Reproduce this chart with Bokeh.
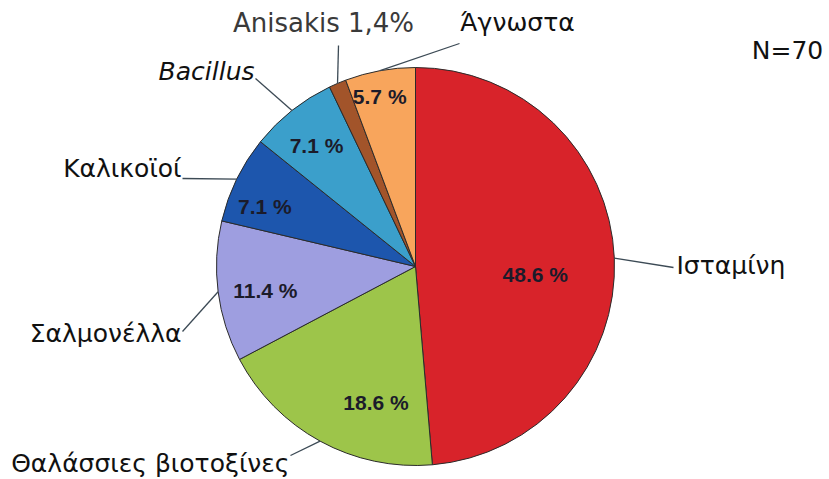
import math
from bokeh.plotting import figure
from bokeh.models import Range1d, ColumnDataSource
from bokeh.core.properties import value
from bokeh.embed import file_html
from bokeh.resources import INLINE

# ---- data ----
categories = ["Ισταμίνη", "Θαλάσσιες βιοτοξίνες", "Σαλμονέλλα", "Καλικοϊοί", "Bacillus", "Anisakis", "Άγνωστα"]
percents = [48.6, 18.6, 11.4, 7.1, 7.1, 1.4, 5.7]
pct_labels = ["48.6 %", "18.6 %", "11.4 %", "7.1 %", "7.1 %", "", "5.7 %"]
outer_labels = ["Ισταμίνη", "Θαλάσσιες βιοτοξίνες", "Σαλμονέλλα", "Καλικοϊοί", "Bacillus", "Anisakis 1,4%", "Άγνωστα"]
colors = ["#d8232a", "#9dc54a", "#9e9ee0", "#1d56ad", "#3b9fcb", "#a2542a", "#f8a55c"]
total_note = "N=70"

# ---- layout (screen coords converted to data: y_data = 479 - y_screen) ----
W, H = 829, 479
cx, cy_s, R = 415, 266, 199
cy = H - cy_s
label_r = [0.6, 0.71, 0.76, 0.81, 0.78, 0.0, 0.87]
label_da = [6.3, -12.5, -1.6, -4.4, -1.0, 0.0, -1.6]
# leader end (screen), text alignment, text position (screen), style, colour, size
anchors = [
    (673, 267, "left", 676, 265, "normal", "#111111", "25px"),
    (290, 455, "right", 289, 463, "normal", "#111111", "25px"),
    (182, 331, "right", 181, 333, "normal", "#111111", "25px"),
    (182, 178, "right", 181, 168, "normal", "#111111", "25px"),
    (255, 78, "right", 254, 71, "italic", "#111111", "25px"),
    (338, 45, "center", 323, 22, "normal", "#3a3a3a", "26px"),
    (459, 43, "center", 517, 22, "normal", "#111111", "25px"),
]

p = figure(width=W, height=H, x_range=Range1d(0, W), y_range=Range1d(0, H),
           output_backend="svg", toolbar_location=None, min_border=0)
p.axis.visible = False
p.grid.visible = False
p.outline_line_color = None
p.background_fill_color = "white"

tot = sum(percents)
starts, ends, mids = [], [], []
cum = 0.0
for v in percents:
    a0 = cum / tot * 2 * math.pi
    cum += v
    a1 = cum / tot * 2 * math.pi
    # clockwise from 12 o'clock
    starts.append(math.pi / 2 - a1)
    ends.append(math.pi / 2 - a0)
    mids.append((a0 + a1) / 2)

src = ColumnDataSource(dict(x=[cx] * len(percents), y=[cy] * len(percents),
                            start=starts, end=ends, color=colors))
p.wedge(x="x", y="y", radius=R, start_angle="start", end_angle="end",
        fill_color="color", line_color="#2b2b2b", line_width=1, source=src)

# percent labels inside
px, py, pt = [], [], []
for i, m in enumerate(mids):
    if not pct_labels[i]:
        continue
    r = label_r[i] * 200
    a = m + math.radians(label_da[i])
    px.append(cx + r * math.sin(a))
    py.append(cy + r * math.cos(a))
    pt.append(pct_labels[i])
p.text(x=px, y=py, text=pt, text_font=value("Liberation Sans"), text_font_style="bold",
       text_font_size="21px", text_color="#1b1b2a", text_align="center", text_baseline="middle")

# leader lines and outer labels
for i, m in enumerate(mids):
    ex = cx + R * math.sin(m)
    ey = cy + R * math.cos(m)
    ax, ay, align, tx, ty, style, col, fs = anchors[i]
    p.line([ex, ax], [ey, H - ay], line_color="#3c4a55", line_width=1.3)
    p.text(x=[tx], y=[H - ty], text=[outer_labels[i]], text_font=value("DejaVu Sans"),
           text_font_size=fs, text_font_style=style, text_color=col,
           text_align=align, text_baseline="middle")

p.text(x=[787], y=[H - 50], text=[total_note], text_font=value("DejaVu Sans"),
       text_font_size="25px", text_color="#111111", text_align="center", text_baseline="middle")

open("out.html", "w").write(file_html(p, INLINE))
